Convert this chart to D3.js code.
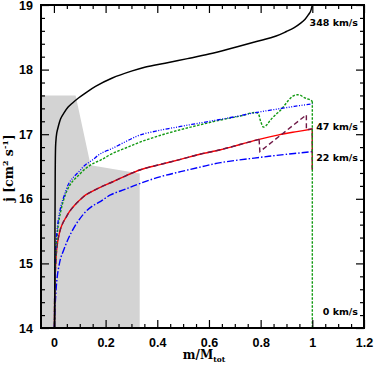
<!DOCTYPE html>
<html><head><meta charset="utf-8">
<script src="https://cdn.jsdelivr.net/npm/d3@7"></script>
<style>body{margin:0;background:#fff}</style></head>
<body><svg id="c" width="374" height="366"></svg>
<script>
// ---- data ----
const xTicks = [0, 0.2, 0.4, 0.6, 0.8, 1, 1.2];
const xTickLabels = ["0", "0.2", "0.4", "0.6", "0.8", "1", "1.2"];
const yTicks = [14, 15, 16, 17, 18, 19];
const yTickLabels = ["14", "15", "16", "17", "18", "19"];
const speedLabels = ["348 km/s", "47 km/s", "22 km/s", "0 km/s"];

const greyM = [-0.05, 0.084, 0.142, 0.332, 0.332, -0.05];
const greyJ = [17.6, 17.6, 16.52, 16.39, 14, 14];

const blackM = [0.003, 0.004, 0.005, 0.007, 0.011, 0.017, 0.026, 0.039, 0.055, 0.071, 0.095, 0.123, 0.161, 0.226, 0.303, 0.355, 0.43, 0.517, 0.6, 0.67, 0.78, 0.86, 0.9, 0.93, 0.955, 0.972, 0.985, 0.993, 0.997, 1.0];
const blackJ = [14.0, 15.5, 16.4, 16.86, 17.02, 17.12, 17.24, 17.33, 17.42, 17.48, 17.56, 17.64, 17.74, 17.87, 17.98, 18.04, 18.1, 18.17, 18.24, 18.31, 18.43, 18.52, 18.59, 18.65, 18.72, 18.78, 18.85, 18.9, 18.95, 19.0];

const blueUpM = [0.002, 0.003, 0.005, 0.008, 0.012, 0.018, 0.028, 0.04, 0.058, 0.077, 0.097, 0.12, 0.149, 0.181, 0.226, 0.28, 0.335, 0.41, 0.49, 0.56, 0.632, 0.7, 0.775, 0.85, 0.93, 1.0];
const blueUpJ = [14.0, 14.6, 15.0, 15.3, 15.5, 15.7, 15.9, 16.05, 16.24, 16.34, 16.42, 16.52, 16.60, 16.70, 16.78, 16.89, 16.99, 17.06, 17.12, 17.17, 17.22, 17.27, 17.33, 17.38, 17.43, 17.47];

const greenM = [0.002, 0.003, 0.005, 0.008, 0.012, 0.017, 0.025, 0.035, 0.052, 0.07, 0.097, 0.12, 0.149, 0.181, 0.226, 0.28, 0.335, 0.41, 0.49, 0.56, 0.645, 0.72, 0.787, 0.80, 0.811, 0.825, 0.838, 0.86, 0.877, 0.895, 0.909, 0.925, 0.941, 0.955, 0.967, 0.98, 0.993, 1.0, 1.0];
const greenJ = [14.0, 14.5, 14.9, 15.2, 15.4, 15.6, 15.78, 15.95, 16.14, 16.26, 16.37, 16.46, 16.54, 16.60, 16.70, 16.79, 16.88, 16.98, 17.07, 17.14, 17.22, 17.28, 17.33, 17.2, 17.11, 17.15, 17.22, 17.31, 17.37, 17.46, 17.53, 17.59, 17.61, 17.6, 17.57, 17.55, 17.53, 17.51, 14.0];

const redM = [0.002, 0.003, 0.005, 0.007, 0.01, 0.014, 0.019, 0.026, 0.035, 0.045, 0.06, 0.08, 0.1, 0.123, 0.15, 0.181, 0.226, 0.28, 0.335, 0.41, 0.49, 0.565, 0.645, 0.72, 0.794, 0.87, 0.94, 1.0, 1.0];
const redJ = [14.0, 14.5, 14.8, 15.0, 15.18, 15.32, 15.43, 15.54, 15.63, 15.7, 15.8, 15.9, 15.98, 16.06, 16.12, 16.18, 16.26, 16.36, 16.45, 16.53, 16.61, 16.69, 16.76, 16.84, 16.92, 16.99, 17.04, 17.08, 16.45];

const purpleTailM = [0.794, 0.797, 0.977, 0.977, 1.0, 1.0];
const purpleTailJ = [16.92, 16.73, 17.30, 17.07, 17.08, 16.45];

const blueLowM = [0.002, 0.004, 0.007, 0.01, 0.013, 0.019, 0.026, 0.039, 0.05, 0.06, 0.08, 0.1, 0.123, 0.15, 0.181, 0.219, 0.277, 0.335, 0.41, 0.49, 0.565, 0.645, 0.775, 0.88, 1.0];
const blueLowJ = [14.0, 14.3, 14.5, 14.68, 14.8, 14.95, 15.08, 15.22, 15.33, 15.42, 15.57, 15.69, 15.8, 15.89, 15.96, 16.06, 16.15, 16.24, 16.34, 16.42, 16.49, 16.56, 16.63, 16.68, 16.73];

// ---- drawing ----
const svg = d3.select("#c");
const L = 41, R = 364, T = 5, B = 328;
const x = d3.scaleLinear().domain([-0.05, 1.2]).range([L, R]);
const y = d3.scaleLinear().domain([14, 19]).range([B, T]);
const zip = (a, b) => a.map((v, i) => [v, b[i]]);

svg.append("defs").append("clipPath").attr("id", "clip")
  .append("rect").attr("x", L).attr("y", T).attr("width", R - L).attr("height", B - T);
const g = svg.append("g").attr("clip-path", "url(#clip)");

g.append("path").datum(zip(greyM, greyJ))
  .attr("d", d3.line().x(d => x(d[0])).y(d => y(d[1])))
  .attr("fill", "#d3d3d3").attr("stroke", "none");

const smooth = d3.line().x(d => x(d[0])).y(d => y(d[1])).curve(d3.curveCatmullRom.alpha(0.5));
const lin = d3.line().x(d => x(d[0])).y(d => y(d[1]));

function draw(data, gen, color, w, dash) {
  g.append("path").datum(data).attr("d", gen).attr("fill", "none")
    .attr("stroke", color).attr("stroke-width", w)
    .attr("stroke-dasharray", dash || null);
}
const redPts = zip(redM, redJ);
draw(zip(blueLowM, blueLowJ), smooth, "#0000ff", 1.4, "7,2,1.5,2");
draw(redPts.slice(0, -1), smooth, "#ff0000", 1.4);
draw(redPts.slice(-2), lin, "#ff0000", 1.4);
draw(redPts.filter(d => d[0] <= 0.794), smooth, "#6e1846", 1.4, "5,3");
draw(zip(purpleTailM, purpleTailJ), lin, "#6e1846", 1.4, "5,3");
const greenPts = zip(greenM, greenJ);
draw(greenPts.slice(0, -1), smooth, "#119911", 1.4, "2.5,1.5");
draw(greenPts.slice(-2), lin, "#119911", 1.4, "2.5,1.5");
draw(zip(blueUpM, blueUpJ), smooth, "#0000ff", 1.3, "4,1.5,1,1.5,1,1.5,1,1.5");
draw(zip(blackM, blackJ), smooth, "#000000", 1.5);

// axes
const tickFont = "bold 12.5px 'Liberation Sans', Arial, sans-serif";
function styleAxis(sel) {
  sel.select(".domain").remove();
  sel.selectAll("line").attr("stroke", "#000").attr("stroke-width", 1.2);
  sel.selectAll("text").style("font", tickFont).attr("fill", "#000");
}
const xMinor = d3.range(0, 24).map(i => i * 0.05).filter(v => xTicks.every(t => Math.abs(t - v) > 1e-6));
const yMinor = d3.range(0, 26).map(i => 14 + i * 0.2).filter(v => yTicks.every(t => Math.abs(t - v) > 1e-6));

svg.append("g").attr("transform", `translate(0,${B})`)
  .call(d3.axisBottom(x).tickValues(xTicks).tickSize(-8).tickPadding(10).tickFormat((d, i) => xTickLabels[i])).call(styleAxis);
svg.append("g").attr("transform", `translate(0,${B})`)
  .call(d3.axisBottom(x).tickValues(xMinor).tickSize(-4).tickFormat("")).call(styleAxis);
svg.append("g").attr("transform", `translate(0,${T})`)
  .call(d3.axisTop(x).tickValues(xTicks).tickSize(-8).tickFormat("")).call(styleAxis);
svg.append("g").attr("transform", `translate(0,${T})`)
  .call(d3.axisTop(x).tickValues(xMinor).tickSize(-4).tickFormat("")).call(styleAxis);
svg.append("g").attr("transform", `translate(${L},0)`)
  .call(d3.axisLeft(y).tickValues(yTicks).tickSize(-8).tickPadding(8).tickFormat((d, i) => yTickLabels[i])).call(styleAxis);
svg.append("g").attr("transform", `translate(${L},0)`)
  .call(d3.axisLeft(y).tickValues(yMinor).tickSize(-4).tickFormat("")).call(styleAxis);
svg.append("g").attr("transform", `translate(${R},0)`)
  .call(d3.axisRight(y).tickValues(yTicks).tickSize(-8).tickFormat("")).call(styleAxis);
svg.append("g").attr("transform", `translate(${R},0)`)
  .call(d3.axisRight(y).tickValues(yMinor).tickSize(-4).tickFormat("")).call(styleAxis);

svg.append("rect").attr("x", L).attr("y", T).attr("width", R - L).attr("height", B - T)
  .attr("fill", "none").attr("stroke", "#000").attr("stroke-width", 2);

// speed labels
const labelJ = [18.72, 17.12, 16.64, 14.25];
svg.selectAll("text.sp").data(speedLabels).join("text").attr("class", "sp")
  .attr("x", 358).attr("y", (d, i) => y(labelJ[i])).attr("dy", "0.35em")
  .attr("text-anchor", "end")
  .style("font", "bold 9.5px 'DejaVu Sans', sans-serif").text(d => d);

// axis titles
const titleFont = "'DejaVu Serif', serif";
const xt = svg.append("text").attr("x", 204).attr("y", 359).attr("text-anchor", "middle")
  .style("font-family", titleFont).style("font-weight", "bold").style("font-size", "12px");
xt.append("tspan").text("m/M");
xt.append("tspan").attr("dy", 3).style("font-size", "7.5px").text("tot");

const yt = svg.append("text").attr("transform", "translate(13,168) rotate(-90)").attr("text-anchor", "middle")
  .style("font-family", titleFont).style("font-weight", "bold").style("font-size", "12.5px");
yt.append("tspan").text("j [cm");
yt.append("tspan").attr("dy", -5).style("font-size", "8px").text("2");
yt.append("tspan").attr("dy", 5).text(" s");
yt.append("tspan").attr("dy", -5).style("font-size", "8px").text("-1");
yt.append("tspan").attr("dy", 5).text("]");
</script></body></html>
